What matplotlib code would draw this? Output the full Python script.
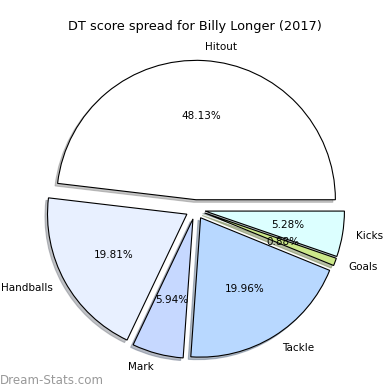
import matplotlib.pyplot as plt

# DT score spread, Billy Longer 2017
labels = ['Hitout', 'Handballs', 'Mark', 'Tackle', 'Goals', 'Kicks']
shares = [48.13, 19.81, 5.94, 19.96, 0.88, 5.28]
colors = ['#ffffff', '#e8f0ff', '#c6d8ff', '#b8d8ff', '#cce88a', '#dcffff']
explode = [0.07, 0.07, 0.07, 0.07, 0.07, 0.07]


def dt_spread():
    fig = plt.figure(figsize=(3.9, 3.9), dpi=100)
    ax = fig.add_axes([0.0544, 0.0162, 0.8934, 0.8934])

    wedges, texts, autotexts = ax.pie(shares, labels=labels, colors=colors,
                                      explode=explode, autopct='%.2f%%',
                                      shadow={'ox': -0.013, 'oy': -0.013, 'shade': 0.45},
                                      startangle=0,
                                      wedgeprops={'edgecolor': 'black', 'linewidth': 0.8},
                                      textprops={'fontsize': 7.5})
    ax.set_aspect('equal')
    ax.set_xlim(-1.25, 1.25)
    ax.set_ylim(-1.25, 1.25)

    fig.text(0.5, 0.933, 'DT score spread for Billy Longer (2017)',
             ha='center', va='center', fontsize=9.3)
    fig.text(0.0, 0.025, 'Dream-Stats.com', ha='left', va='center',
             fontsize=8.6, color='#999999')

    plt.savefig('out.png', dpi=100)


if __name__ == '__main__':
    dt_spread()
